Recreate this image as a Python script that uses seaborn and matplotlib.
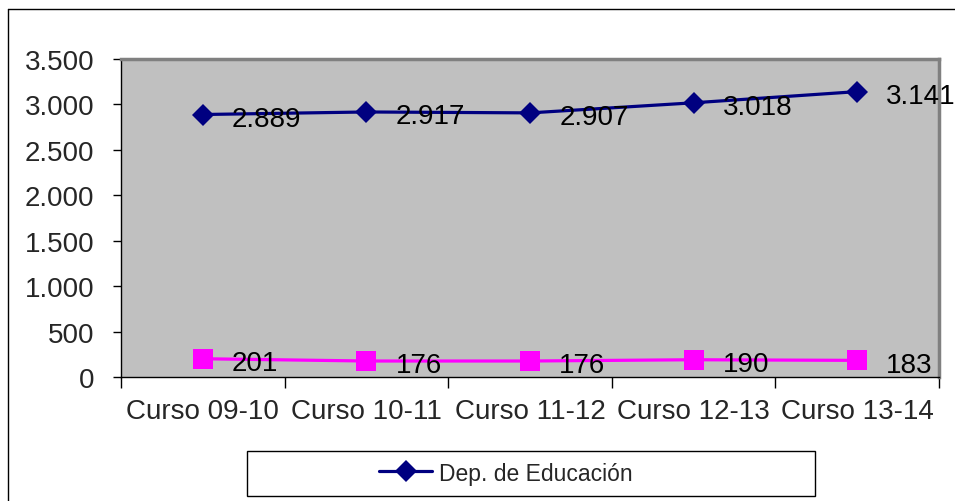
import matplotlib
matplotlib.use("Agg")
import matplotlib.pyplot as plt
import seaborn as sns
import pandas as pd
from matplotlib.patches import Rectangle
from matplotlib.lines import Line2D
from matplotlib.ticker import FixedLocator, FuncFormatter

# datos
cursos = ["Curso 09-10", "Curso 10-11", "Curso 11-12", "Curso 12-13", "Curso 13-14"]
educacion = [2889, 2917, 2907, 3018, 3141]
otros = [201, 176, 176, 190, 183]
serie_edu = "Dep. de Educación"

sns.set_style("white")
plt.rcParams["font.family"] = ["Liberation Sans", "DejaVu Sans"]


def miles(v, pos=None):
    return f"{v:,.0f}".replace(",", ".")


df = pd.DataFrame({"curso": cursos, "edu": educacion, "otros": otros})

fig = plt.figure(figsize=(9.55, 5.02), dpi=100)
ax = fig.add_axes([121 / 955, 1 - 378 / 502, (939 - 121) / 955, (378 - 60) / 502])
ax.set_facecolor("#C0C0C0")

sns.lineplot(data=df, x="curso", y="edu", ax=ax, color="#000080", lw=2.3,
             marker="D", markersize=11, markeredgewidth=0, label=serie_edu)
sns.lineplot(data=df, x="curso", y="otros", ax=ax, color="#FF00FF", lw=2.3,
             marker="s", markersize=14, markeredgewidth=0, label="_otros")

for serie in (educacion, otros):
    for i, v in enumerate(serie):
        ax.annotate(miles(v), (i, v), xytext=(21, -3), textcoords="offset points",
                    ha="left", va="center", fontsize=20, color="black",
                    annotation_clip=False)

ax.set_xlim(-0.5, 4.5)
ax.set_ylim(0, 3500)
ax.set_yticks(range(0, 3501, 500))
ax.yaxis.set_major_formatter(FuncFormatter(miles))
ax.xaxis.set_minor_locator(FixedLocator([i - 0.5 for i in range(6)]))
ax.tick_params(axis="y", which="major", left=True, length=6, width=1, color="black",
               direction="out", pad=13, labelsize=20)
ax.tick_params(axis="x", which="major", length=0, pad=15, labelsize=20)
ax.tick_params(axis="x", which="minor", bottom=True, length=8, width=1, color="black",
               direction="out")
ax.set_xlabel("")
ax.set_ylabel("")

for lado in ("top", "right"):
    ax.spines[lado].set_color("#808080")
    ax.spines[lado].set_linewidth(2.5)
for lado in ("left", "bottom"):
    ax.spines[lado].set_color("black")
    ax.spines[lado].set_linewidth(1)
    ax.spines[lado].set_visible(True)

ax.get_legend().remove()
handles, labels = ax.get_legend_handles_labels()
fig.legend(handles[:1], labels[:1], loc="center", bbox_to_anchor=(506 / 955, 1 - 474 / 502),
           frameon=False, fontsize=16.5, handlelength=2.3, handletextpad=0.3)

fig.add_artist(Rectangle((247 / 955, 1 - 497 / 502), (815 - 247) / 955, 45 / 502,
                         transform=fig.transFigure, fill=False, edgecolor="black", lw=1))
fig.add_artist(Line2D([8 / 955, 1], [1 - 10 / 502, 1 - 10 / 502], transform=fig.transFigure,
                      color="black", lw=1))
fig.add_artist(Line2D([8 / 955, 8 / 955], [0, 1 - 10 / 502], transform=fig.transFigure,
                      color="black", lw=1))

fig.savefig("out.png", dpi=100)
